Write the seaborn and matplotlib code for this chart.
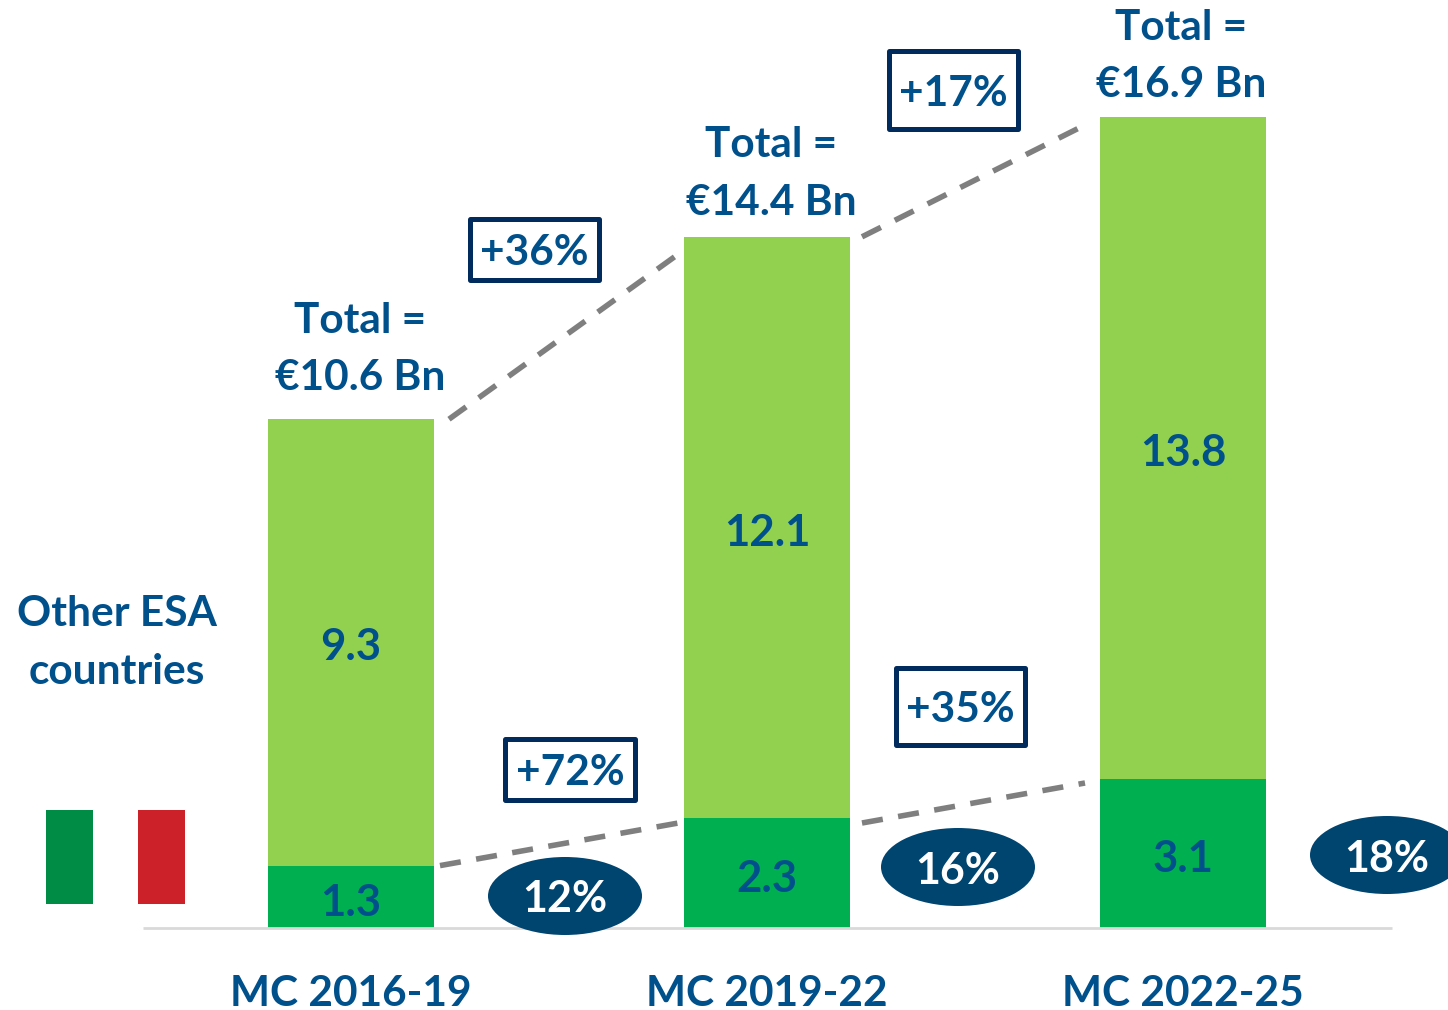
import matplotlib
matplotlib.use("Agg")
import matplotlib.pyplot as plt
from matplotlib.patches import Ellipse, Rectangle
import pandas as pd
import seaborn as sns

periods = ["MC 2016-19", "MC 2019-22", "MC 2022-25"]
italy = [1.3, 2.3, 3.1]
others = [9.3, 12.1, 13.8]
totals = [10.6, 14.4, 16.9]
shares = ["12%", "16%", "18%"]
growth_total = ["+36%", "+17%"]
growth_italy = ["+72%", "+35%"]

W, H = 1448, 1010
BASE_PX, UNIT_PX, X0_PX, STEP_PX = 928, 48.0, 351, 416

sns.set_theme(style="white")
plt.rcParams["font.family"] = ["Lato", "DejaVu Sans"]
plt.rcParams["font.weight"] = "bold"

NAVY = "#00508C"
BOX = "#002B5C"
OVAL = "#004470"
LIGHT = "#92D050"
DARK = "#00B050"
GREY = "#7F7F7F"

df = pd.DataFrame({"period": periods, "italy": italy, "others": others, "total": totals})

fig = plt.figure(figsize=(W / 100, H / 100), dpi=100)
ax = fig.add_axes([0, 0, 1, 1])

sns.barplot(data=df, x="period", y="others", bottom=df["italy"], color=LIGHT,
            saturation=1, width=0.4, ax=ax, linewidth=0)
sns.barplot(data=df, x="period", y="italy", color=DARK,
            saturation=1, width=0.4, ax=ax, linewidth=0)

ax.set_xlim(-X0_PX / STEP_PX, (W - X0_PX) / STEP_PX)
ax.set_ylim(-(H - BASE_PX) / UNIT_PX, BASE_PX / UNIT_PX)
ax.axis("off")


def dx(px):
    return (px - X0_PX) / STEP_PX


def dy(py):
    return (BASE_PX - py) / UNIT_PX


TEXT_DY = 3.5 / UNIT_PX  # optical centring of the caps
TXT = dict(ha="center", va="center", color=NAVY, fontsize=30.5, fontweight="bold")
NUM = dict(TXT, fontsize=31.5)

# axis baseline
ax.plot([dx(143), dx(1392)], [0, 0], color="#D9D9D9", lw=2, solid_capstyle="butt", zorder=1)

for i, p in enumerate(periods):
    ax.text(i, dy(990) - TEXT_DY, p, **TXT)

label_y = [(899, 644), (876, 530), (856, 450)]
for i in range(3):
    ax.text(i, dy(label_y[i][0]) - TEXT_DY, f"{italy[i]:.1f}", **NUM)
    ax.text(i, dy(label_y[i][1]) - TEXT_DY, f"{others[i]:.1f}", **NUM)

total_pos = [(360, 318, 375), (771, 142, 200), (1181, 25, 82)]
for (tx, y1, y2), t in zip(total_pos, totals):
    ax.text(dx(tx), dy(y1) - TEXT_DY, "Total =", **TXT)
    ax.text(dx(tx), dy(y2) - TEXT_DY, f"€{t} Bn", **TXT)

# dashed connectors
dash = dict(color=GREY, lw=4.0, ls=(0, (3.8, 2.8)), dash_capstyle="butt")
ax.plot([dx(449), dx(684)], [totals[0], dy(250)], **dash)
ax.plot([dx(862), dx(1085)], [totals[1], dy(125)], **dash)
ax.plot([dx(440), dx(684)], [italy[0], dy(822)], **dash)
ax.plot([dx(862), dx(1085)], [dy(823), dy(783)], **dash)

# growth boxes
boxes = [(470, 219, 599, 280, growth_total[0]), (889, 51, 1018, 129, growth_total[1]),
         (505, 739, 635, 800, growth_italy[0]), (896, 668, 1025, 745, growth_italy[1])]
for x1, y1, x2, y2, s in boxes:
    ax.add_patch(Rectangle((dx(x1), dy(y2)), dx(x2) - dx(x1), dy(y1) - dy(y2),
                           fc="white", ec=BOX, lw=3.6, joinstyle="round", zorder=3))
    ax.text(dx((x1 + x2) / 2), dy((y1 + y2) / 2) - TEXT_DY, s, zorder=4, **TXT)

# share ovals
ovals = [(565, 896), (958, 867), (1387, 855)]
for (cx, cy), s in zip(ovals, shares):
    ax.add_patch(Ellipse((dx(cx), dy(cy)), 154 / STEP_PX, 78 / UNIT_PX, fc=OVAL, ec="none", zorder=3))
    ax.text(dx(cx), dy(cy) - TEXT_DY, s, ha="center", va="center", color="white", fontsize=31,
            fontweight="bold", zorder=4)

# left label and Italian flag
ax.text(dx(117), dy(611) - TEXT_DY, "Other ESA", **TXT)
ax.text(dx(117), dy(668) - TEXT_DY, "countries", **TXT)
ax.add_patch(Rectangle((dx(46), dy(904)), dx(93) - dx(46), dy(810) - dy(904), fc="#008C45", ec="none"))
ax.add_patch(Rectangle((dx(138), dy(904)), dx(185) - dx(138), dy(810) - dy(904), fc="#CD212A", ec="none"))

fig.savefig("out.png", dpi=100, facecolor="white")
